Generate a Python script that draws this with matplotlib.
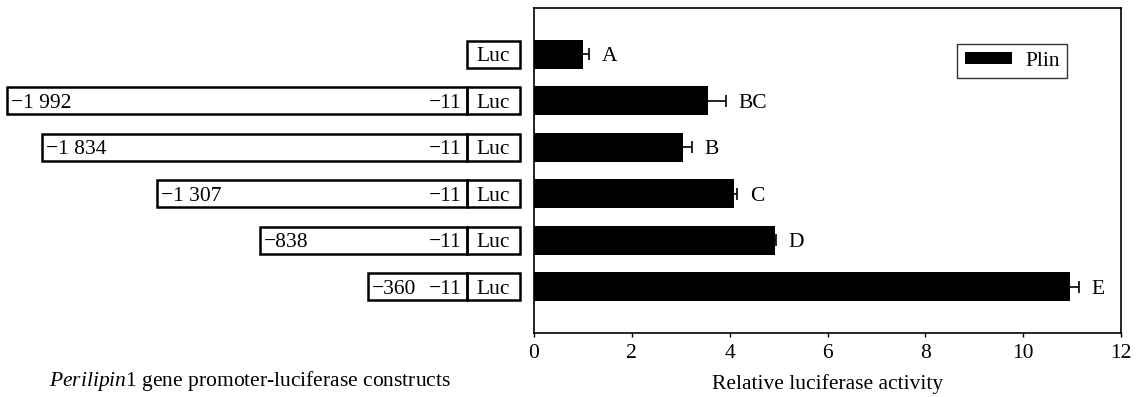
import numpy as np
import matplotlib
matplotlib.use("Agg")
import matplotlib.pyplot as plt
from matplotlib.patches import Rectangle

plt.rcParams["font.family"] = "Liberation Serif"
plt.rcParams["mathtext.fontset"] = "custom"
plt.rcParams["mathtext.rm"] = "Liberation Serif"
plt.rcParams["mathtext.it"] = "Liberation Serif:italic"
plt.rcParams.update({'font.size': 15.5})

# data
groups = ['A', 'BC', 'B', 'C', 'D', 'E']
activity = [1.01, 3.56, 3.05, 4.09, 4.93, 10.95]
activity_err = [0.11, 0.36, 0.18, 0.07, 0.02, 0.2]

start_labels = ['', '\u22121 992', '\u22121 834', '\u22121 307', '\u2212838', '\u2212360']
end_labels = ['', '\u221211', '\u221211', '\u221211', '\u221211', '\u221211']
# left edge of each promoter box, in the left panel's drawing units (0..534)
box_start = [None, 7, 42, 157, 260, 368]
luc_left = 467
luc_right = 520

W, H = 1144, 397
fig = plt.figure(figsize=(W / 100, H / 100), dpi=100)

ax_l, ax_r, ax_b, ax_t = 534, 1121, 333, 8
ax = fig.add_axes([ax_l / W, 1 - ax_b / H, (ax_r - ax_l) / W, (ax_b - ax_t) / H])
ax0 = fig.add_axes([0, 1 - ax_b / H, ax_l / W, (ax_b - ax_t) / H], sharey=ax)

y = np.arange(len(groups))

# bars
ax.barh(y, activity, height=0.62, color='black', label='Plin')
ax.errorbar(activity, y, xerr=activity_err, fmt='none', ecolor='black',
            elinewidth=1.2, capsize=4, capthick=1.2)
for yi, v, e, g in zip(y, activity, activity_err, groups):
    ax.annotate(g, xy=(v + e, yi), xytext=(9, 0), textcoords='offset points',
                ha='left', va='center_baseline')

ax.set_xlim(0, 12)
ax.set_ylim(len(groups), -1)
ax.set_xticks(np.arange(0, 13, 2))
ax.set_yticks([])
ax.tick_params(axis='x', direction='out', length=3, width=1, pad=5)
for s in ax.spines.values():
    s.set_linewidth(1.2)
ax.set_xlabel('Relative luciferase activity', labelpad=8)

leg = ax.legend(loc='upper right', bbox_to_anchor=(0.908, 0.889), frameon=True,
                fancybox=False, edgecolor='black', handlelength=2.2,
                handleheight=0.5, borderpad=0.35, handletextpad=0.6,
                borderaxespad=0)
leg.get_frame().set_linewidth(1.0)

# construct diagrams
bh = 0.58
ax0.set_xlim(0, ax_l)
ax0.axis('off')
for yi, s, sl, el in zip(y, box_start, start_labels, end_labels):
    ax0.add_patch(Rectangle((luc_left, yi - bh / 2), luc_right - luc_left, bh,
                            fill=False, edgecolor='black', linewidth=1.8))
    ax0.text((luc_left + luc_right) / 2, yi, 'Luc', ha='center', va='center_baseline')
    if s is None:
        continue
    ax0.add_patch(Rectangle((s, yi - bh / 2), luc_left - s, bh,
                            fill=False, edgecolor='black', linewidth=1.8))
    ax0.text(s + 4, yi, sl, ha='left', va='center_baseline')
    ax0.text(luc_left - 6, yi, el, ha='right', va='center_baseline')

fig.text(250 / W, 1 - 381 / H,
         r'$\it{Perilipin}$1 gene promoter-luciferase constructs',
         ha='center', va='center')

fig.savefig('out.png', dpi=100)
